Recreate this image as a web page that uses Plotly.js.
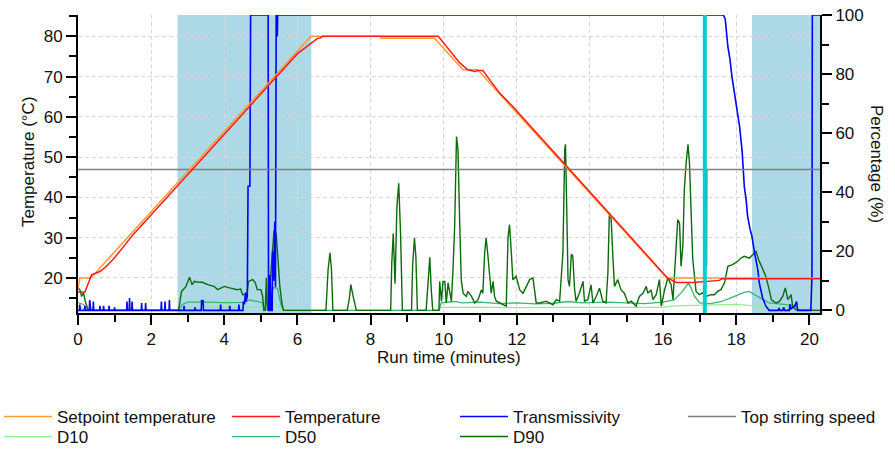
<!DOCTYPE html>
<html><head><meta charset="utf-8">
<script src="https://cdn.plot.ly/plotly-3.0.1.min.js"></script>
<style>html,body{margin:0;padding:0;background:#fff;}#chart{width:895px;height:452px;}</style>
</head><body><div id="chart"></div>
<script>
// ---- data (time in minutes) ----
const setpoint = [[0,17.3],[0.05,20],[0.35,20],[6.37,80],[8.27,80],[8.29,79.5],[9.75,79.5],[10.53,71.7],[10.93,71.7],[16.1,20],[20.29,20]];
const temperature = [[0,16.5],[0.19,16.5],[0.37,20.8],[0.6,21.6],[0.78,22.9],[1.0,25],[1.5,30.7],[2,35.7],[2.5,40.8],[3,45.8],[3.5,50.7],[4,55.7],[4.5,60.8],[5,65.7],[5.5,70.7],[6,75.7],[6.38,78.3],[6.55,79.5],[6.62,79.6],[6.7,80],[9.85,80],[10.03,77.9],[10.25,75.4],[10.44,73.4],[10.66,71.7],[10.85,71.3],[10.94,71.5],[11.07,71.5],[11.26,69.2],[11.53,65.9],[11.89,62.6],[12.17,59.7],[13,51.4],[14,41.3],[15,31.3],[16,21.2],[16.12,20],[16.36,18.9],[16.81,18.9],[17.54,19.4],[17.6,19.8],[20.29,19.8]];
const transmissivity = [[0,0],[0.04,0],[0.05,2],[0.06,0],[0.18,0],[0.19,1.5],[0.2,0],[0.31,0],[0.32,3.5],[0.34,1],[0.35,0],[0.41,0],[0.42,3],[0.43,0],[0.59,0],[0.6,1.5],[0.61,0],[0.69,0],[0.7,1.5],[0.71,0],[0.84,0],[0.85,1.5],[0.86,0],[0.99,0],[1.0,1],[1.01,0],[1.33,0],[1.34,3],[1.35,0],[1.4,0],[1.41,4.2],[1.42,0],[1.47,0],[1.48,3],[1.49,0],[1.73,0],[1.74,2.5],[1.75,0],[1.84,0],[1.85,2.5],[1.86,0],[2.27,0],[2.28,3],[2.29,0],[2.37,0],[2.38,3],[2.39,0],[2.49,0],[2.5,3.5],[2.51,0],[2.89,0],[2.9,1.5],[2.91,0],[3.19,0],[3.2,1],[3.21,0],[3.37,0],[3.38,3.5],[3.4,2],[3.42,3.5],[3.43,0],[3.89,0],[3.9,2],[3.91,0],[4.14,0],[4.15,1.5],[4.16,0],[4.39,0],[4.4,2],[4.41,0],[4.51,0],[4.52,3],[4.55,2],[4.58,6],[4.6,3],[4.63,5],[4.65,42],[4.7,42],[4.72,100],[5.2,100],[5.21,0],[5.24,0],[5.25,12],[5.28,0],[5.31,0],[5.32,20],[5.35,10],[5.38,30],[5.4,8],[5.42,100],[5.43,93],[5.45,93],[5.46,100],[17.65,100],[17.7,98.5],[17.77,89.4],[17.83,84.9],[17.88,79.3],[17.95,73.6],[18.01,69],[18.09,62.3],[18.16,54],[18.22,42],[18.27,37.5],[18.31,31.9],[18.38,27.4],[18.43,25],[18.5,19.5],[18.59,13.8],[18.63,9.3],[18.68,6.4],[18.72,4.2],[18.81,1.4],[18.9,0],[19.15,0],[19.17,0.8],[19.2,0],[19.27,0],[19.3,1],[19.32,0],[19.45,0],[19.47,2],[19.5,0.5],[19.6,1.5],[19.65,3],[19.68,0],[20.04,0],[20.05,12],[20.07,12],[20.08,100],[20.29,100]];
const stirring = [[0,47.7],[17.18,47.7],[17.19,15],[17.2,47.7],[20.29,47.7]];
const d10 = [[0,1.5],[0.25,0],[2.75,0],[2.85,1],[3.5,1.1],[4.5,1],[5.1,1],[5.35,2.5],[5.5,1],[5.62,0],[9.87,0],[9.93,1],[11,1.1],[12,0.9],[13,1],[14,1],[15,0.9],[16,1],[16.3,1.5],[17,1.7],[18,2],[18.5,1.5],[19.7,0.5],[19.72,0],[20.29,0]];
const d50 = [[0,2.6],[0.15,2],[0.28,0],[2.75,0],[2.85,2],[3.0,2.8],[3.5,2.8],[4.0,2.6],[4.5,2.7],[4.7,3.5],[4.9,3],[5.05,2.5],[5.1,0],[5.15,3],[5.25,4],[5.35,7.7],[5.45,7.5],[5.55,2],[5.62,0],[9.87,0],[9.93,2.5],[10.3,3],[10.5,2.5],[11,2.8],[11.5,2.3],[12,2.5],[12.5,2.2],[13,2.4],[13.4,3],[13.8,2.5],[14.5,2.8],[15,2.5],[15.5,2.3],[16,2.8],[16.3,3.5],[16.5,6],[16.7,9.3],[16.85,5],[17.0,2.5],[17.3,2.3],[17.6,3],[17.9,4.5],[18.2,6],[18.35,6.4],[18.6,4.5],[18.9,2.5],[19.3,2],[19.6,1.5],[19.72,0],[20.29,0]];
const d90 = [[0,7.6],[0.05,7],[0.1,4.7],[0.15,6],[0.2,3],[0.28,0],[2.75,0],[2.83,6.4],[2.95,8],[3.05,11.2],[3.12,8.7],[3.18,9.8],[3.25,9.6],[3.4,9.5],[3.55,8.7],[3.72,8.1],[3.82,7],[4.0,8.1],[4.15,7.6],[4.35,7],[4.45,7.2],[4.5,5.3],[4.62,5.5],[4.66,9.8],[4.78,10.4],[4.85,9.3],[4.9,7],[5.0,7],[5.05,4.7],[5.08,0],[5.12,0],[5.15,11],[5.18,0],[5.22,3],[5.27,12],[5.31,18],[5.36,27],[5.42,26],[5.47,15],[5.52,8],[5.58,2],[5.62,0],[6.78,0],[6.8,7],[6.84,14],[6.89,19.5],[6.93,14],[6.97,0],[7.36,0],[7.42,4],[7.46,8.7],[7.52,5],[7.61,0],[8.55,0],[8.58,16],[8.62,26],[8.67,9],[8.72,35],[8.77,43],[8.82,26],[8.87,0],[9.12,0],[9.15,15],[9.2,24.5],[9.24,18],[9.28,0],[9.52,0],[9.57,9],[9.62,18],[9.66,7],[9.7,0],[9.87,0],[9.89,9.8],[9.94,3],[9.98,9.8],[10.03,9.8],[10.07,2.5],[10.12,9.3],[10.21,3.1],[10.25,12.7],[10.3,28.5],[10.35,58.8],[10.39,54.5],[10.44,28.5],[10.48,10.4],[10.53,5.8],[10.62,4.7],[10.66,6.4],[10.76,4.7],[10.85,2.5],[10.94,3.6],[11.03,6.9],[11.07,5.8],[11.12,19.5],[11.16,24.5],[11.21,18.4],[11.26,9.8],[11.3,5.8],[11.35,9.8],[11.39,4.7],[11.44,3.1],[11.53,2.5],[11.62,1.9],[11.71,1.4],[11.76,25],[11.8,29],[11.85,19.5],[11.89,10.4],[11.98,11.5],[12.08,6.9],[12.17,5.8],[12.26,8.1],[12.35,10.4],[12.44,11],[12.53,2.5],[12.62,2.5],[12.8,3.1],[12.99,1.9],[13.08,3.6],[13.17,3.1],[13.26,19.5],[13.31,54.5],[13.33,56.2],[13.37,30.7],[13.4,10.4],[13.44,8.1],[13.49,19],[13.53,18.4],[13.58,6.9],[13.62,3.1],[13.71,5.8],[13.81,9.8],[13.85,3.1],[13.94,3.6],[14.03,8.6],[14.08,2.5],[14.17,4.7],[14.26,7.5],[14.35,3.1],[14.44,2.5],[14.49,12.7],[14.53,33],[14.58,30.7],[14.63,17.3],[14.67,8.1],[14.76,10.4],[14.85,6.9],[14.94,5.8],[15.04,2.5],[15.13,3.1],[15.26,1.4],[15.35,4.7],[15.45,5.8],[15.54,8.1],[15.58,5.8],[15.67,6.9],[15.72,3.6],[15.81,5.3],[15.9,10.4],[15.95,1.4],[16.04,6.9],[16.13,11],[16.22,8.6],[16.27,3.6],[16.31,11.5],[16.36,19.5],[16.4,30.7],[16.45,29.5],[16.49,14.9],[16.54,21.8],[16.58,40.9],[16.63,50],[16.68,56.2],[16.72,50],[16.77,30.7],[16.81,17.3],[16.9,6.4],[16.99,5.3],[17.08,5.9],[17.17,4.7],[17.31,5.3],[17.4,5.3],[17.49,6.4],[17.58,7],[17.68,9.3],[17.77,14.9],[17.9,15.5],[18.04,16.6],[18.13,17.7],[18.22,18.3],[18.36,17.7],[18.47,18.9],[18.54,20],[18.61,17.2],[18.72,14.3],[18.81,11.5],[18.9,7],[18.96,3.6],[19.09,2.5],[19.18,3],[19.27,4.7],[19.34,7.6],[19.41,3.6],[19.5,5.3],[19.54,1.4],[19.63,0.2],[19.72,0],[20.29,0]];
const shadeStart = [2.72, 18.43];
const shadeEnd = [6.38, 20.29];
const eventTimes = [17.14];
const seriesNames = ['Setpoint temperature','Temperature','Transmissivity','Top stirring speed','D10','D50','D90'];

const FONT = 'Liberation Sans, Arial, sans-serif';
const FS = 17;
const xs = a => a.map(p => p[0]);
const ys = a => a.map(p => p[1]);

function tr(data, name, color, width, yaxis, legend) {
  return {type:'scatter', mode:'lines', x: xs(data), y: ys(data), name: name,
    yaxis: yaxis, legend: legend, line:{color: color, width: width}, hoverinfo:'skip'};
}
const traces = [
  tr(d10, seriesNames[4], '#90EE90', 1.3, 'y', 'legend5'),
  tr(d50, seriesNames[5], '#3CB371', 1.3, 'y', 'legend6'),
  tr(d90, seriesNames[6], '#0B6B0B', 1.4, 'y', 'legend7'),
  tr(transmissivity, seriesNames[2], '#0000FF', 1.6, 'y', 'legend3'),
  tr(stirring, seriesNames[3], '#808080', 1.4, 'y', 'legend4'),
  tr(setpoint, seriesNames[0], '#FF9A2E', 1.5, 'y2', 'legend'),
  tr(temperature, seriesNames[1], '#FF1A1A', 1.5, 'y2', 'legend2')
];

const tickfont = {family: FONT, size: FS, color: '#111'};
const axisCommon = {ticks:'outside', ticklen:10, tickwidth:2, tickcolor:'#000', showline:true,
  linecolor:'#000', linewidth:2, zeroline:false, tickfont: tickfont, fixedrange:true};

const legPos = [[-1,0],[227,0],[455,0],[683,0],[-1,1],[227,1],[455,1]];
const legends = {};
const legKeys = ['legend','legend2','legend3','legend4','legend5','legend6','legend7'];
legKeys.forEach((k, i) => {
  const px = legPos[i][0];
  const rowTop = legPos[i][1] === 0 ? 399 : 419;
  legends[k] = {x: (px - 78) / 742, y: (313 - rowTop) / 298, xanchor:'left', yanchor:'top',
    orientation:'v', bgcolor:'rgba(0,0,0,0)', borderwidth:0, itemwidth:48, tracegroupgap:0,
    font:{family: FONT, size: FS, color:'#111'}};
});

const shapes = [];
shadeStart.forEach((s, i) => shapes.push({type:'rect', xref:'x', yref:'paper', x0:s, x1:shadeEnd[i], y0:0, y1:1,
  fillcolor:'#ADD8E6', line:{width:0}, layer:'below'}));
eventTimes.forEach(t => shapes.push({type:'line', xref:'x', yref:'paper', x0:t, x1:t, y0:0, y1:1,
  line:{color:'#00CED1', width:4}, layer:'above'}));

const layout = Object.assign({
  width:895, height:452,
  margin:{l:78, r:75, t:15, b:139, autoexpand:false},
  paper_bgcolor:'#fff', plot_bgcolor:'rgba(0,0,0,0)',
  showlegend:true,
  xaxis: Object.assign({}, axisCommon, {range:[0,20.29], tickmode:'linear', tick0:0, dtick:2,
    showgrid:true, gridcolor:'#d6d6d6', gridwidth:1, griddash:'4px,3px',
    minor:{tick0:0, dtick:1, ticks:'outside', ticklen:7, tickwidth:2, tickcolor:'#000', showgrid:false}}),
  yaxis: Object.assign({}, axisCommon, {side:'right', range:[-0.9,100], tickmode:'linear', tick0:0, dtick:20,
    showgrid:false,
    minor:{tick0:0, dtick:10, ticks:'outside', ticklen:7, tickwidth:2, tickcolor:'#000', showgrid:false}}),
  yaxis2: Object.assign({}, axisCommon, {side:'left', overlaying:'y', range:[11.3,85.3], tickmode:'linear', tick0:0, dtick:10,
    showgrid:true, gridcolor:'#d6d6d6', gridwidth:1, griddash:'4px,3px',
    minor:{tick0:0, dtick:5, ticks:'outside', ticklen:7, tickwidth:2, tickcolor:'#000', showgrid:false}}),
  shapes: shapes,
  annotations: [
    {text:'Temperature (°C)', xref:'paper', yref:'paper', x:(28-78)/742, y:(313-162)/298, textangle:-90,
     showarrow:false, xanchor:'center', yanchor:'middle', font:{family:FONT, size:FS, color:'#111'}},
    {text:'Percentage (%)', xref:'paper', yref:'paper', x:(877-78)/742, y:(313-164)/298, textangle:90,
     showarrow:false, xanchor:'center', yanchor:'middle', font:{family:FONT, size:FS, color:'#111'}},
    {text:'Run time (minutes)', xref:'paper', yref:'paper', x:0.5, y:(313-357)/298,
     showarrow:false, xanchor:'center', yanchor:'middle', font:{family:FONT, size:FS, color:'#111'}}
  ]
}, legends);

Plotly.newPlot('chart', traces, layout, {staticPlot:true, displayModeBar:false});
</script></body></html>
